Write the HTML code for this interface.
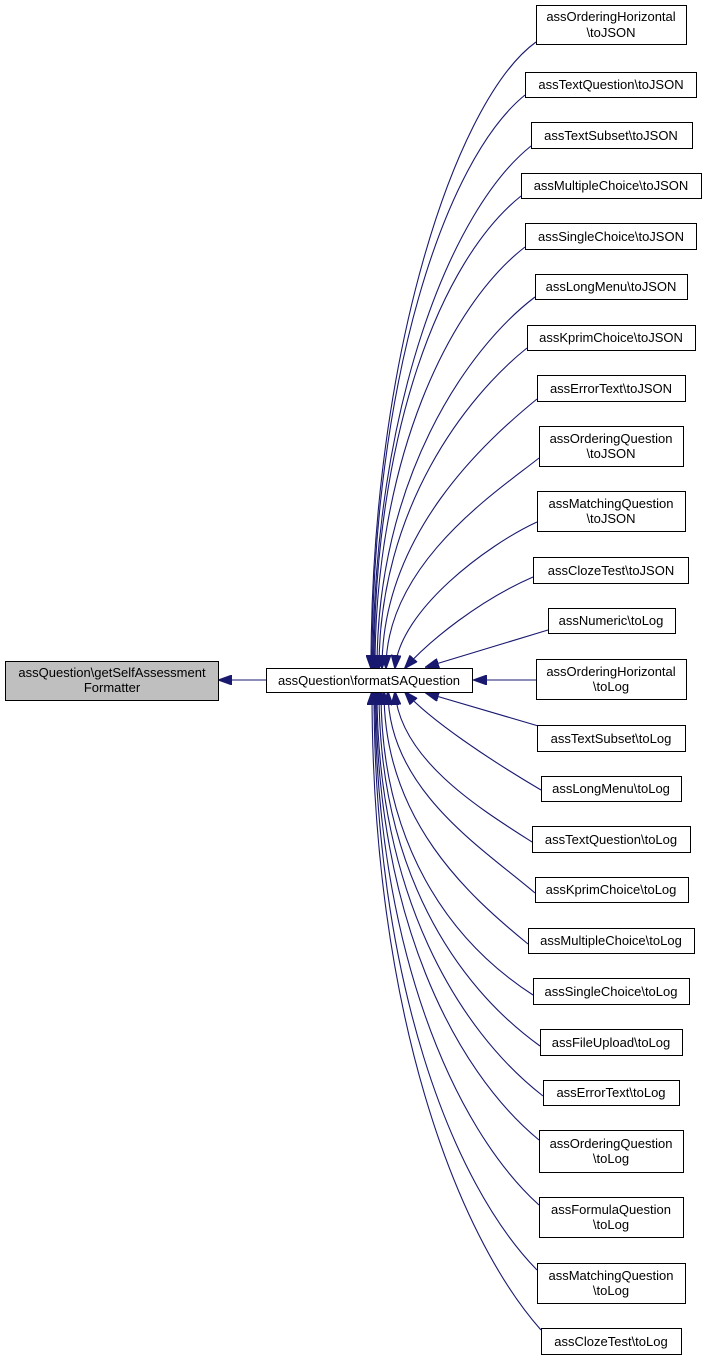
<!DOCTYPE html>
<html><head><meta charset="utf-8"><style>
body{margin:0;background:#fff}
svg text{font-family:"Liberation Sans",Arial,sans-serif;font-size:13px;fill:#000}
</style></head><body>
<svg width="707" height="1361" viewBox="0 0 707 1361" xmlns="http://www.w3.org/2000/svg">
<defs><marker id="a" markerWidth="14" markerHeight="10" refX="13" refY="5" orient="auto" markerUnits="userSpaceOnUse"><path d="M0,0 L14,5 L0,10 Z" fill="#191970" stroke="#191970"/></marker></defs>
<g fill="none" stroke="#191970" stroke-width="1.1" marker-end="url(#a)">
<path d="M266,680 L219,680"/>
<path d="M536,42 C456,100 371,355 371,668"/>
<path d="M525,95 C445,160 372,381 372,668"/>
<path d="M531,146 C451,210 373,407 373,668"/>
<path d="M521,196 C441,260 374,432 374,668"/>
<path d="M525,247 C450,305 375,457 375,668"/>
<path d="M535,297 C465,350 377,482 377,668"/>
<path d="M527,348 C467,396 379,508 379,668"/>
<path d="M537,399 C487,440 382,533 382,668"/>
<path d="M539,458 C499,490 386,563 386,668"/>
<path d="M537,522 C487,545 400,610 395,668"/>
<path d="M533,577 C480,600 430,640 405,668"/>
<path d="M548,630 L426,667"/>
<path d="M536,680 L474,680"/>
<path d="M552,730 L426,693"/>
<path d="M541,790 C490,760 430,720 405,692"/>
<path d="M532,842 C482,810 400,760 395,692"/>
<path d="M535,893 C485,850 388,790 388,692"/>
<path d="M528,944 C468,895 384,820 384,692"/>
<path d="M533,995 C448,940 381,843 381,692"/>
<path d="M540,1046 C455,985 379,869 379,692"/>
<path d="M543,1096 C458,1030 377,894 377,692"/>
<path d="M539,1140 C454,1070 376,916 376,692"/>
<path d="M539,1205 C454,1128 375,948 375,692"/>
<path d="M537,1270 C452,1183 374,981 374,692"/>
<path d="M541,1330 C456,1234 372,1011 372,692"/>
</g>
<g stroke="#000" stroke-width="1" fill="#fff">
<rect x="5.5" y="661.5" width="213" height="39" fill="#bfbfbf"/>
<rect x="266.5" y="668.5" width="206" height="24"/>
<rect x="536.5" y="5.5" width="150" height="39"/>
<rect x="525.5" y="72.5" width="171" height="25"/>
<rect x="531.5" y="122.5" width="161" height="26"/>
<rect x="521.5" y="173.5" width="180" height="25"/>
<rect x="525.5" y="223.5" width="171" height="26"/>
<rect x="535.5" y="274.5" width="152" height="25"/>
<rect x="527.5" y="325.5" width="168" height="25"/>
<rect x="537.5" y="375.5" width="148" height="26"/>
<rect x="539.5" y="426.5" width="144" height="40"/>
<rect x="537.5" y="491.5" width="148" height="40"/>
<rect x="533.5" y="557.5" width="155" height="26"/>
<rect x="548.5" y="608.5" width="127" height="25"/>
<rect x="536.5" y="659.5" width="150" height="40"/>
<rect x="537.5" y="725.5" width="148" height="26"/>
<rect x="541.5" y="776.5" width="140" height="25"/>
<rect x="532.5" y="826.5" width="158" height="26"/>
<rect x="535.5" y="877.5" width="153" height="25"/>
<rect x="528.5" y="928.5" width="166" height="25"/>
<rect x="533.5" y="978.5" width="156" height="26"/>
<rect x="540.5" y="1029.5" width="142" height="26"/>
<rect x="543.5" y="1080.5" width="136" height="25"/>
<rect x="539.5" y="1130.5" width="144" height="42"/>
<rect x="539.5" y="1197.5" width="144" height="40"/>
<rect x="537.5" y="1263.5" width="148" height="40"/>
<rect x="541.5" y="1328.5" width="140" height="26"/>
</g>
<g text-anchor="middle">
<text x="112" y="677">assQuestion\getSelfAssessment</text><text x="112" y="692">Formatter</text>
<text x="369" y="685">assQuestion\formatSAQuestion</text>
<text x="611" y="21">assOrderingHorizontal</text><text x="611" y="37">\toJSON</text>
<text x="611" y="89">assTextQuestion\toJSON</text>
<text x="611" y="140">assTextSubset\toJSON</text>
<text x="611" y="190">assMultipleChoice\toJSON</text>
<text x="611" y="241">assSingleChoice\toJSON</text>
<text x="611" y="291">assLongMenu\toJSON</text>
<text x="611" y="342">assKprimChoice\toJSON</text>
<text x="611" y="393">assErrorText\toJSON</text>
<text x="611" y="443">assOrderingQuestion</text><text x="611" y="458">\toJSON</text>
<text x="611" y="508">assMatchingQuestion</text><text x="611" y="523">\toJSON</text>
<text x="611" y="575">assClozeTest\toJSON</text>
<text x="611" y="625">assNumeric\toLog</text>
<text x="611" y="676">assOrderingHorizontal</text><text x="611" y="691">\toLog</text>
<text x="611" y="743">assTextSubset\toLog</text>
<text x="611" y="793">assLongMenu\toLog</text>
<text x="611" y="844">assTextQuestion\toLog</text>
<text x="611" y="894">assKprimChoice\toLog</text>
<text x="611" y="945">assMultipleChoice\toLog</text>
<text x="611" y="996">assSingleChoice\toLog</text>
<text x="611" y="1047">assFileUpload\toLog</text>
<text x="611" y="1097">assErrorText\toLog</text>
<text x="611" y="1148">assOrderingQuestion</text><text x="611" y="1163">\toLog</text>
<text x="611" y="1214">assFormulaQuestion</text><text x="611" y="1229">\toLog</text>
<text x="611" y="1280">assMatchingQuestion</text><text x="611" y="1295">\toLog</text>
<text x="611" y="1346">assClozeTest\toLog</text>
</g>
</svg>
</body></html>
